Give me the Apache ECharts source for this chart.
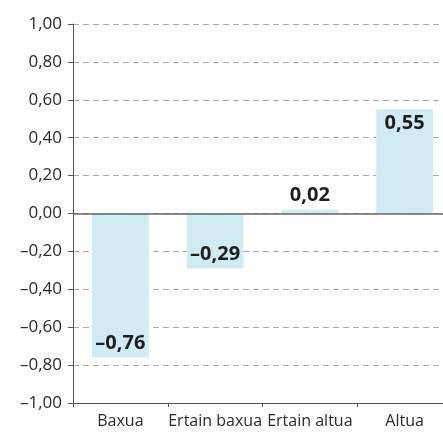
<!DOCTYPE html>
<html>
<head>
<meta charset="utf-8">
<script src="https://cdn.jsdelivr.net/npm/echarts@6/dist/echarts.min.js"></script>
<style>
  html, body { margin: 0; padding: 0; background: #fff; overflow: hidden; }
  #chart { width: 452px; height: 434px; }
</style>
</head>
<body>
<div id="chart"></div>
<script>
const categories = ['Baxua', 'Ertain baxua', 'Ertain altua', 'Altua'];
const values = [-0.76, -0.29, 0.02, 0.55];
const labelPositions = ['insideBottom', 'insideBottom', 'top', 'insideTop'];

const fmt = (v) => v.toFixed(2).replace('.', ',').replace('-', '\u2013');

const chart = echarts.init(document.getElementById('chart'));

const options = {
    animation: false,
    grid: { left: 73, right: 0, top: 24, bottom: 31 },
    xAxis: {
        type: 'category',
        data: categories,
        axisLine: { onZero: false, lineStyle: { color: '#555', width: 1 } },
        axisTick: { show: true, length: 4, lineStyle: { color: '#555' } },
        axisLabel: {
            color: '#2a2a2a',
            fontFamily: 'Open Sans',
            fontSize: 16,
            margin: 10,
            interval: 0
        },
        splitLine: { show: false }
    },
    yAxis: {
        type: 'value',
        min: -1,
        max: 1,
        interval: 0.2,
        axisLine: { show: true, lineStyle: { color: '#555', width: 1 } },
        axisTick: { show: true, length: 5, lineStyle: { color: '#555' } },
        axisLabel: {
            color: '#2a2a2a',
            fontFamily: 'Open Sans',
            fontSize: 17,
            margin: 11,
            formatter: fmt
        },
        splitLine: {
            show: true,
            lineStyle: { color: '#aaa', type: [6, 4], width: 1 }
        }
    },
    series: [{
        type: 'bar',
        barWidth: '60%',
        data: values.map((v, i) => ({
            value: v,
            label: { position: labelPositions[i] }
        })),
        itemStyle: { color: '#d0ebf1' },
        label: {
            show: true,
            color: '#1e1e1e',
            fontFamily: 'Open Sans',
            fontWeight: 'bold',
            fontSize: 20,
            distance: 4,
            formatter: (p) => fmt(p.value)
        },
        markLine: {
            silent: true,
            symbol: 'none',
            label: { show: false },
            lineStyle: { color: '#666', type: 'solid', width: 1.5 },
            data: [{ yAxis: 0 }]
        }
    }]
};

chart.setOption(options);
</script>
</body>
</html>
